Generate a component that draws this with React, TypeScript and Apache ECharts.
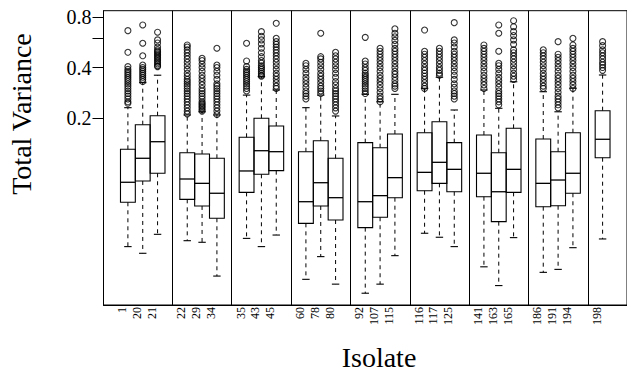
import React, { useEffect, useRef } from "react";
import * as echarts from "echarts";

// ---- data ----
const isolates = ["1", "20", "21", "22", "29", "34", "35", "43", "45", "60", "78", "80", "92", "107", "115", "116", "117", "125", "141", "163", "165", "186", "191", "194", "198"];
const groupSizes = [3, 3, 3, 3, 3, 3, 3, 3, 1];

const lowerWhisker = [0.0343, 0.0313, 0.0406, 0.0372, 0.0364, 0.0229, 0.0384, 0.0343, 0.0402, 0.0219, 0.0299, 0.0205, 0.0181, 0.0205, 0.0303, 0.0412, 0.039, 0.0343, 0.026, 0.0201, 0.0388, 0.0241, 0.0251, 0.0338, 0.0381];
const q1 = [0.063, 0.0844, 0.0938, 0.0656, 0.0599, 0.0506, 0.0722, 0.0925, 0.0972, 0.0472, 0.0599, 0.0494, 0.0445, 0.0513, 0.0671, 0.0738, 0.0817, 0.0728, 0.068, 0.0483, 0.0722, 0.0593, 0.0601, 0.0713, 0.1161];
const median = [0.0829, 0.1152, 0.1446, 0.0867, 0.0817, 0.0713, 0.0968, 0.1278, 0.1261, 0.0635, 0.0824, 0.0671, 0.0635, 0.069, 0.0883, 0.095, 0.109, 0.099, 0.0938, 0.0728, 0.099, 0.0817, 0.0855, 0.0938, 0.1495];
const q3 = [0.1303, 0.1826, 0.2066, 0.1244, 0.1222, 0.1152, 0.1536, 0.1994, 0.1794, 0.1261, 0.1466, 0.1152, 0.1427, 0.1332, 0.1607, 0.1636, 0.1903, 0.1427, 0.1586, 0.1244, 0.1738, 0.15, 0.1261, 0.1636, 0.2213];
const upperWhisker = [0.2306, 0.325, 0.36, 0.2086, 0.218, 0.2086, 0.274, 0.353, 0.294, 0.2306, 0.274, 0.2058, 0.277, 0.25, 0.277, 0.301, 0.35, 0.2234, 0.294, 0.2287, 0.329, 0.287, 0.218, 0.301, 0.361];

const outliers: number[][] = [
  [0.663, 0.493, 0.405, 0.39, 0.38, 0.37, 0.36, 0.35, 0.34, 0.33, 0.32, 0.31, 0.3, 0.29, 0.28, 0.27, 0.26, 0.25, 0.245],
  [0.717, 0.558, 0.47, 0.414, 0.4, 0.39, 0.38, 0.37, 0.36, 0.35, 0.34, 0.33],
  [0.649, 0.584, 0.56, 0.53, 0.51, 0.5, 0.49, 0.48, 0.47, 0.46, 0.45, 0.44, 0.43, 0.42, 0.41, 0.405],
  [0.545, 0.53, 0.51, 0.49, 0.47, 0.45, 0.43, 0.41, 0.39, 0.37, 0.355, 0.34, 0.33, 0.32, 0.31, 0.3, 0.29, 0.28, 0.27, 0.26, 0.25, 0.24, 0.23, 0.22, 0.212],
  [0.454, 0.44, 0.42, 0.4, 0.38, 0.36, 0.345, 0.33, 0.315, 0.3, 0.29, 0.28, 0.27, 0.26, 0.25, 0.245, 0.24, 0.235, 0.23, 0.225, 0.22],
  [0.521, 0.414, 0.4, 0.38, 0.36, 0.34, 0.32, 0.31, 0.3, 0.29, 0.28, 0.27, 0.26, 0.25, 0.24, 0.23, 0.22, 0.21],
  [0.558, 0.4375, 0.405, 0.39, 0.38, 0.37, 0.36, 0.35, 0.34, 0.33, 0.32, 0.31, 0.3, 0.29],
  [0.654, 0.614, 0.584, 0.553, 0.521, 0.49, 0.464, 0.44, 0.425, 0.41, 0.4, 0.39, 0.38, 0.37, 0.36, 0.355],
  [0.734, 0.597, 0.57, 0.55, 0.53, 0.51, 0.49, 0.47, 0.45, 0.43, 0.41, 0.39, 0.37, 0.355, 0.34, 0.325, 0.31, 0.3],
  [0.424, 0.41, 0.39, 0.37, 0.35, 0.335, 0.32, 0.305, 0.29, 0.28, 0.27, 0.26],
  [0.64, 0.464, 0.45, 0.43, 0.41, 0.39, 0.37, 0.355, 0.34, 0.325, 0.31, 0.3, 0.29, 0.28],
  [0.493, 0.47, 0.45, 0.43, 0.41, 0.39, 0.37, 0.35, 0.33, 0.315, 0.3, 0.29, 0.28, 0.27, 0.26, 0.25, 0.24, 0.23, 0.22],
  [0.605, 0.437, 0.42, 0.4, 0.385, 0.37, 0.36, 0.35, 0.34, 0.33, 0.32, 0.31, 0.3, 0.29, 0.28],
  [0.521, 0.5, 0.48, 0.46, 0.44, 0.42, 0.4, 0.38, 0.36, 0.345, 0.33, 0.315, 0.3, 0.285, 0.27, 0.26, 0.25],
  [0.68, 0.64, 0.61, 0.58, 0.55, 0.52, 0.5, 0.48, 0.46, 0.44, 0.42, 0.4, 0.38, 0.365, 0.35, 0.335, 0.32, 0.31, 0.3],
  [0.669, 0.5, 0.48, 0.46, 0.44, 0.42, 0.4, 0.385, 0.37, 0.355, 0.34, 0.325, 0.31, 0.3],
  [0.521, 0.5, 0.48, 0.46, 0.44, 0.42, 0.4, 0.385, 0.37, 0.36],
  [0.74, 0.584, 0.56, 0.53, 0.5, 0.48, 0.46, 0.44, 0.42, 0.4, 0.38, 0.36, 0.34, 0.32, 0.305, 0.29, 0.28, 0.27, 0.26],
  [0.545, 0.52, 0.5, 0.48, 0.46, 0.44, 0.42, 0.4, 0.38, 0.36, 0.345, 0.33, 0.315, 0.3],
  [0.717, 0.64, 0.5, 0.424, 0.41, 0.39, 0.37, 0.35, 0.335, 0.32, 0.305, 0.29, 0.28, 0.27, 0.26, 0.25, 0.24],
  [0.76, 0.7, 0.655, 0.62, 0.585, 0.55, 0.51, 0.49, 0.47, 0.45, 0.43, 0.41, 0.39, 0.37, 0.355, 0.34],
  [0.51, 0.49, 0.47, 0.45, 0.43, 0.41, 0.39, 0.37, 0.355, 0.34, 0.325, 0.31, 0.3],
  [0.57, 0.48, 0.46, 0.44, 0.42, 0.4, 0.38, 0.36, 0.345, 0.33, 0.315, 0.3, 0.285, 0.27, 0.26, 0.25, 0.24, 0.23],
  [0.597, 0.545, 0.52, 0.5, 0.48, 0.46, 0.44, 0.42, 0.4, 0.38, 0.36, 0.345, 0.33, 0.315, 0.3],
  [0.57, 0.54, 0.51, 0.49, 0.47, 0.45, 0.43, 0.415, 0.4, 0.385],
];

const yTickValues = [0.2, 0.4, 0.6, 0.8];
const yLabelValues = [0.2, 0.4, 0.8];
const yRange = [0.0154, 0.872];

const FONT = "Liberation Serif, serif";

export default function App() {
  const ref = useRef<HTMLDivElement>(null);

  useEffect(() => {
    if (!ref.current) return;
    const chart = echarts.init(ref.current, null, { renderer: "svg" });

    // slot positions: one empty slot between groups
    const positions: number[] = [];
    const separators: number[] = [];
    let pos = 0;
    groupSizes.forEach((n, g) => {
      for (let k = 0; k < n; k++) positions.push(pos++);
      if (g < groupSizes.length - 1) {
        separators.push(pos);
        pos++;
      }
    });
    const nameAt = new Map<number, string>();
    positions.forEach((p, i) => nameAt.set(p, isolates[i]));

    const L = Math.log;
    const boxData = isolates.map((_, i) => [
      positions[i],
      L(lowerWhisker[i]),
      L(q1[i]),
      L(median[i]),
      L(q3[i]),
      L(upperWhisker[i]),
    ]);
    const outlierData: number[][] = [];
    outliers.forEach((arr, i) => arr.forEach((v) => outlierData.push([positions[i], L(v)])));

    const lastPos = positions[positions.length - 1];
    const pad = 1.645;

    chart.setOption({
      animation: false,
      textStyle: { fontFamily: FONT },
      grid: {
        left: 103.5,
        top: 10.7,
        width: 525.5,
        height: 294.3,
        show: true,
        borderColor: "#000",
        borderWidth: 1,
        backgroundColor: "transparent",
      },
      xAxis: {
        type: "value",
        min: -pad,
        max: lastPos + pad,
        splitLine: { show: false },
        axisLine: { show: true, onZero: false, lineStyle: { color: "#000", width: 1 } },
        axisTick: { show: false },
        axisLabel: {
          customValues: positions,
          formatter: (v: number) => nameAt.get(Math.round(v)) ?? "",
          rotate: 90,
          margin: 2,
          verticalAlign: "bottom",
          fontSize: 12,
          fontFamily: FONT,
          color: "#000",
        },
      },
      yAxis: {
        type: "value",
        min: L(yRange[0]),
        max: L(yRange[1]),
        splitLine: { show: false },
        axisLine: { show: true, onZero: false, lineStyle: { color: "#000", width: 1 } },
        axisTick: {
          show: true,
          customValues: yTickValues.map(L),
          length: 11,
          lineStyle: { color: "#000", width: 1 },
        },
        axisLabel: {
          customValues: yLabelValues.map(L),
          formatter: (v: number) => Math.exp(v).toFixed(1),
          margin: 12,
          fontSize: 20,
          fontFamily: FONT,
          color: "#000",
        },
      },
      graphic: [
        {
          type: "text",
          x: 379,
          y: 357,
          style: {
            text: "Isolate",
            fontSize: 28,
            fontFamily: FONT,
            fill: "#000",
            textAlign: "center",
            textVerticalAlign: "middle",
          },
        },
        {
          type: "text",
          x: 21,
          y: 114,
          rotation: Math.PI / 2,
          style: {
            text: "Total Variance",
            fontSize: 28,
            fontFamily: FONT,
            fill: "#000",
            textAlign: "center",
            textVerticalAlign: "middle",
          },
        },
      ],
      series: [
        {
          type: "custom",
          data: boxData,
          clip: false,
          renderItem: (params: any, api: any) => {
            const x = api.value(0);
            const pLo = api.coord([x, api.value(1)]);
            const pA = api.coord([x, api.value(2)]);
            const pM = api.coord([x, api.value(3)]);
            const pB = api.coord([x, api.value(4)]);
            const pHi = api.coord([x, api.value(5)]);
            const w = api.size([1, 0])[0];
            const cx = pA[0];
            const cap = w / 2;
            const solid = { stroke: "#000", lineWidth: 1.1, fill: "none" };
            const dashed = { stroke: "#000", lineWidth: 1, lineDash: [4, 4] };
            return {
              type: "group",
              children: [
                { type: "line", shape: { x1: cx, y1: pA[1], x2: cx, y2: pLo[1] }, style: dashed },
                { type: "line", shape: { x1: cx, y1: pB[1], x2: cx, y2: pHi[1] }, style: dashed },
                { type: "line", shape: { x1: cx - cap / 2, y1: pLo[1], x2: cx + cap / 2, y2: pLo[1] }, style: solid },
                { type: "line", shape: { x1: cx - cap / 2, y1: pHi[1], x2: cx + cap / 2, y2: pHi[1] }, style: solid },
                { type: "rect", shape: { x: cx - w / 2, y: pB[1], width: w, height: pA[1] - pB[1] }, style: solid },
                { type: "line", shape: { x1: cx - w / 2, y1: pM[1], x2: cx + w / 2, y2: pM[1] }, style: { stroke: "#000", lineWidth: 1.3 } },
              ],
            };
          },
        },
        {
          type: "scatter",
          data: outlierData,
          symbol: "circle",
          symbolSize: 6,
          itemStyle: { color: "rgba(0,0,0,0)", borderColor: "#000", borderWidth: 1.1 },
          markLine: {
            silent: true,
            symbol: "none",
            label: { show: false },
            lineStyle: { color: "#000", type: "solid", width: 1 },
            data: separators.map((s) => ({ xAxis: s })),
          },
        },
      ],
    });

    return () => chart.dispose();
  }, []);

  return (
    <div
      ref={ref}
      style={{ position: "absolute", left: 0, top: 0, width: 627, height: 375, background: "#fff" }}
    />
  );
}
